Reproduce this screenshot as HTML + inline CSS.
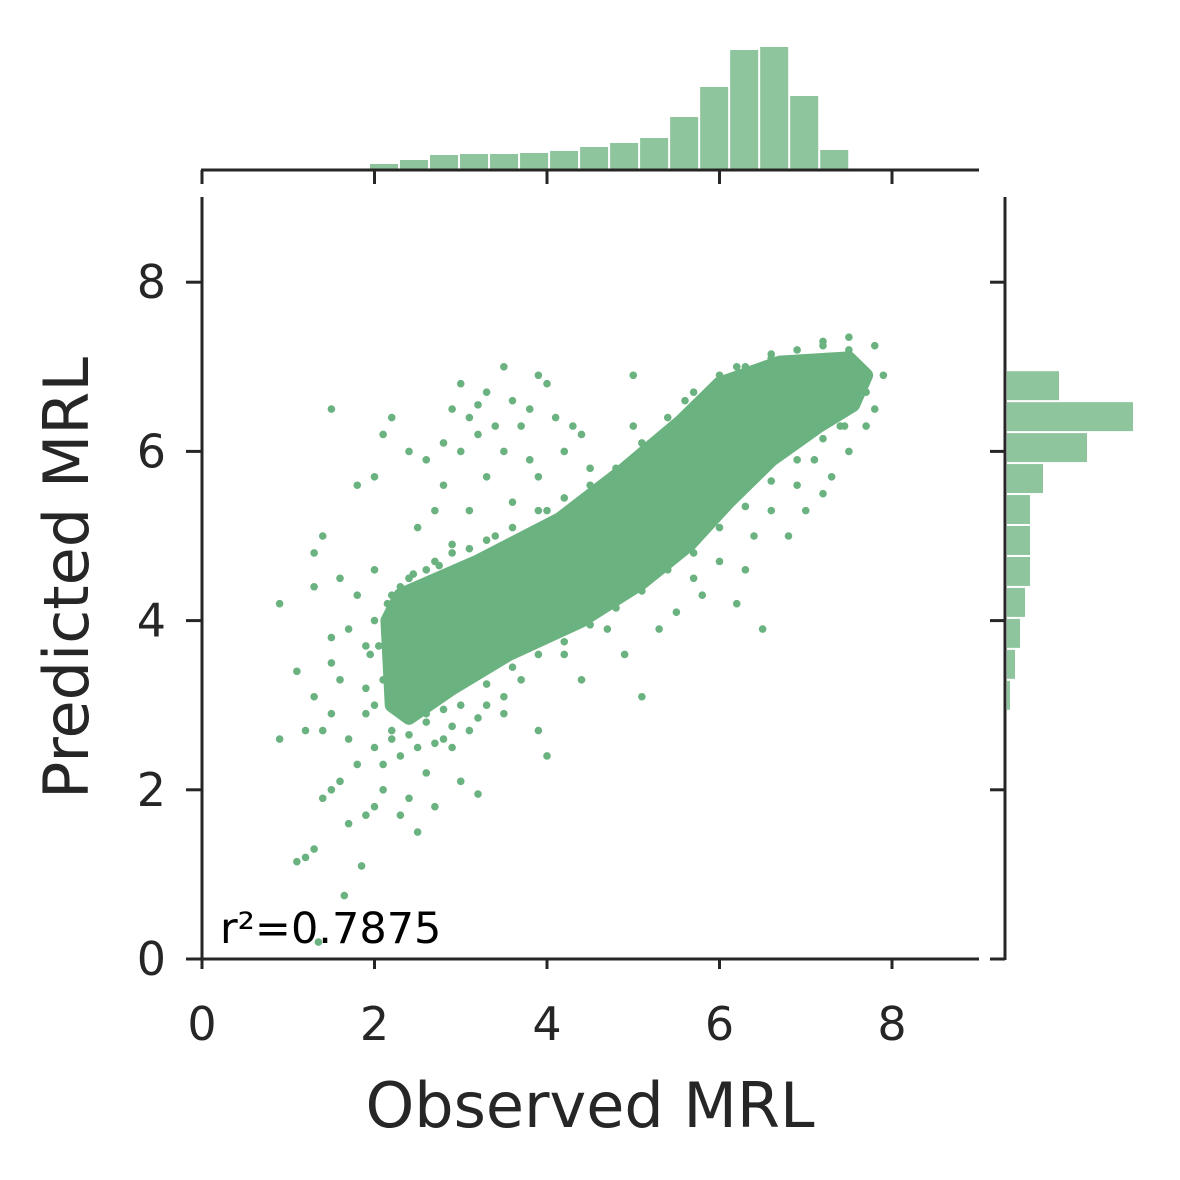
<!DOCTYPE html>
<html><head><meta charset="utf-8"><style>
html,body{margin:0;padding:0;background:#fff;}
svg{display:block;font-family:"DejaVu Sans","Liberation Sans",sans-serif;}
</style></head><body>
<svg id="chart" width="1180" height="1180" viewBox="0 0 1180 1180">
<g id="marks"></g>
<g id="tophist"></g>
<g id="righthist"></g>
<g id="axes"></g>
<text x="220" y="943" font-size="43" fill="#000">r²=0.7875</text>
<text x="590" y="1127" font-size="62" fill="#262626" text-anchor="middle">Observed MRL</text>
<text transform="translate(88,578) rotate(-90)" font-size="62" fill="#262626" text-anchor="middle">Predicted MRL</text>
</svg>
<script>
const xTicks=[0,2,4,6,8];
const yTicks=[0,2,4,6,8];
const topBinStart=1.936, topBinWidth=0.348;
const topCounts=[6,10,15,16,16,17,19,23,27,32,53,83,120,123,74,20];
const rightBinTop=6.96, rightBinWidth=0.366;
const rightCounts=[52,126,80,36,23,23,23,18,13,8,3];
const coreX=[2.15,2.3,3.2,4.15,4.85,5.55,6.0,6.7,7.5,7.7,7.55,7.15,6.6,6.1,5.65,5.1,4.4,3.55,2.9,2.4,2.2];
const coreY=[4.0,4.3,4.7,5.2,5.75,6.35,6.8,7.05,7.1,6.9,6.55,6.3,5.9,5.4,4.9,4.45,4.0,3.6,3.2,2.85,3.0];
const ptX=[3.0,3.3,3.6,3.5,3.9,4.0,2.9,3.1,3.4,3.2,3.7,2.8,3.0,3.5,4.1,4.3,2.6,2.4,3.3,3.8,4.2,2.1,2.0,1.5,2.8,3.6,3.1,2.7,1.8,1.3,1.4,1.3,0.9,1.6,1.8,1.5,2.5,3.9,4.5,4.4,3.8,2.2,3.2,5.0,
1.1,1.3,1.5,1.6,1.5,1.4,1.7,1.8,1.6,1.5,1.4,1.7,1.9,2.0,2.1,2.3,2.5,2.4,2.7,2.6,2.9,3.1,3.3,3.5,3.0,3.2,2.8,2.2,1.9,2.0,1.3,1.1,1.2,1.65,1.85,1.35,0.9,1.2,4.0,3.9,4.4,4.9,5.3,5.5,5.1,5.8,6.2,6.5,6.3,6.8,7.0,7.2,7.3,7.1,7.45,6.9,6.0,5.7,4.7,4.2,3.7,2.6,1.9,1.7,2.0,2.4,2.9,3.4,4.0,4.6,5.0,5.2,5.6,6.2,6.6,7.2,7.5,7.8,7.9,7.7,7.5,7.8,6.6,6.4,
2.05,2.1,2.0,2.15,2.3,2.4,2.5,2.6,2.7,2.9,3.1,3.3,3.6,3.9,4.2,4.5,4.8,5.1,5.4,5.7,6.0,6.3,6.6,6.9,7.2,7.5,7.6,7.7,
2.2,2.4,2.6,2.8,3.0,3.3,3.6,3.9,4.2,4.5,4.8,5.1,5.4,5.7,6.0,6.3,6.6,6.9,7.2,7.4,2.3,2.5,2.7,2.9,3.2,3.5,2.1,1.95,1.9,2.0,2.2,2.45,2.75];
const ptY=[6.8,6.7,6.6,7.0,6.9,6.8,6.5,6.4,6.3,6.2,6.3,6.1,6.0,6.0,6.4,6.3,5.9,6.0,5.7,5.9,6.0,6.2,5.7,6.5,5.6,5.4,5.3,5.3,5.6,4.8,5.0,4.4,4.2,4.5,4.3,3.8,5.1,5.7,5.8,6.2,6.5,6.4,6.55,6.9,
3.4,3.1,3.5,3.3,2.9,2.7,2.6,2.3,2.1,2.0,1.9,1.6,1.7,1.8,2.0,1.7,1.5,1.9,1.8,2.2,2.5,2.7,3.0,2.9,2.1,1.95,2.6,2.6,2.9,2.5,1.3,1.15,1.2,0.75,1.1,0.2,2.6,2.7,2.4,2.7,3.3,3.6,3.9,4.1,3.1,4.3,4.2,3.9,4.6,5.0,5.3,5.5,5.7,5.9,6.3,5.6,4.7,4.5,3.9,3.6,3.3,2.9,3.7,3.9,4.6,4.5,4.9,5.0,5.3,5.4,6.3,6.1,6.6,7.0,7.1,7.3,7.35,7.25,6.9,6.3,6.0,6.5,5.3,5.0,
3.7,3.3,3.0,4.2,4.4,4.5,4.4,4.6,4.7,4.8,4.85,4.95,5.1,5.3,5.45,5.6,5.8,6.1,6.4,6.7,6.9,7.0,7.15,7.2,7.25,7.2,7.0,6.7,
2.7,2.65,2.8,2.95,3.0,3.25,3.45,3.6,3.75,3.95,4.15,4.35,4.6,4.8,5.1,5.35,5.65,5.9,6.15,6.3,2.4,2.5,2.55,2.75,2.85,3.1,2.3,3.6,3.2,4.0,4.3,4.55,4.65];

const NS='http://www.w3.org/2000/svg';
const X=v=>202+86.25*v;
const Y=v=>959-84.6*v;
const C='#6ab27f', H='#8fc59c', AX='#262626';
function mk(tag,parent,attrs){const e=document.createElementNS(NS,tag);for(const k in attrs)e.setAttribute(k,attrs[k]);parent.appendChild(e);return e;}
const marks=document.getElementById('marks');
const core=mk('polygon',marks,{points:coreX.map((x,i)=>X(x)+','+Y(coreY[i])).join(' '),fill:C,stroke:C,'stroke-width':14,'stroke-linejoin':'round'});


ptX.forEach((x,i)=>{const c=mk('circle',marks,{cx:X(x),cy:Y(ptY[i]),r:3.8,fill:C});

});
const th=document.getElementById('tophist');
topCounts.forEach((n,i)=>{const x0=X(topBinStart+i*topBinWidth),x1=X(topBinStart+(i+1)*topBinWidth);const h=n/123*123;
const r=mk('rect',th,{x:x0+1,y:170-h,width:x1-x0-2,height:h,fill:H});

});
const rh=document.getElementById('righthist');
rightCounts.forEach((n,i)=>{const y0=Y(rightBinTop-i*rightBinWidth),y1=Y(rightBinTop-(i+1)*rightBinWidth);const w=n/126*126;
const r=mk('rect',rh,{x:1007,y:y0+1,width:w,height:y1-y0-2,fill:H});

});
const ax=document.getElementById('axes');
const ln=(x1,y1,x2,y2,name)=>{const l=mk('line',ax,{x1,y1,x2,y2,stroke:AX,'stroke-width':3});};
ln(202,197,202,960,'y-axis-line');
ln(201,959,979,959,'x-axis-line');
ln(201,170,979,170,'top-hist-axis');
ln(1005,197,1005,960,'right-hist-axis');
xTicks.forEach(v=>{ln(X(v),959,X(v),969,'x-tick');ln(X(v),170,X(v),184,'top-tick');
const t=mk('text',ax,{x:X(v),y:1040,'font-size':46,fill:AX,'text-anchor':'middle'});t.textContent=v;

});
yTicks.forEach(v=>{ln(186,Y(v),202,Y(v),'y-tick');ln(990,Y(v),1005,Y(v),'right-tick');
const t=mk('text',ax,{x:166,y:Y(v)+16,'font-size':46,fill:AX,'text-anchor':'end'});t.textContent=v;

});
</script>
</body></html>
